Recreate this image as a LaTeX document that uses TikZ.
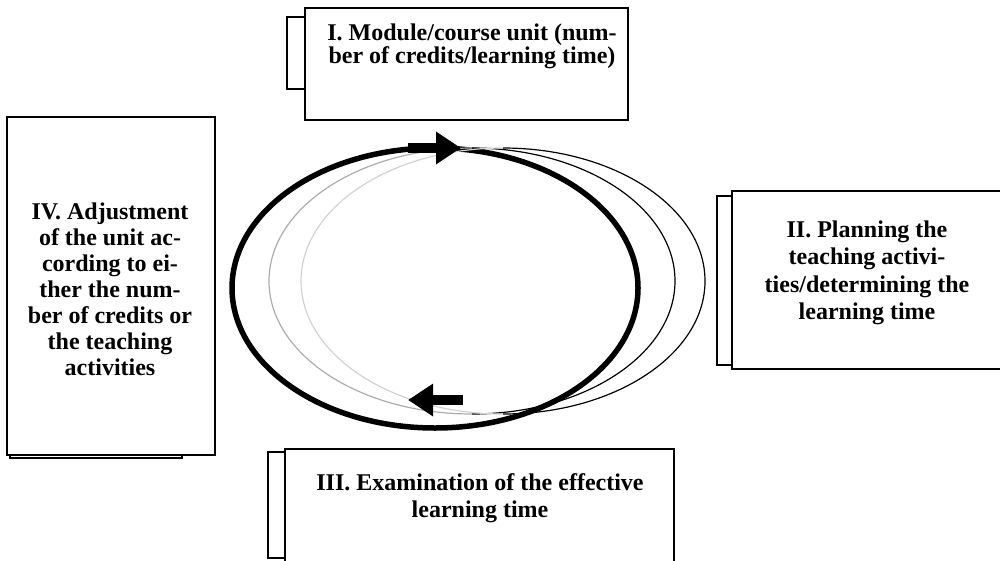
\documentclass[tikz,border=0pt]{standalone}
\usepackage{fontspec}
\setmainfont{Liberation Serif}
\usetikzlibrary{arrows.meta,positioning}
\tikzset{
  backbox/.style={draw, line width=1.2pt, fill=white, inner sep=0pt},
  frontbox/.style={draw, line width=1.5pt, fill=white, inner sep=0pt},
  steptext/.style={align=center, inner sep=0pt, font=\bfseries\fontsize{24}{27.5}\selectfont},
  cyclearrow/.style={line width=10pt, -{Triangle[length=25pt,width=31pt]}}
}

\begin{document}
\begin{tikzpicture}[x=1pt,y=-1pt]
    \clip (0,0) rectangle (1000,560);

    \draw[line width=5.5pt] (435,288) ellipse [x radius=203pt, y radius=140pt];
    \draw[gray!65, line width=1.2pt] (472,148) arc[start angle=90, end angle=270, x radius=203pt, y radius=133pt];
    \draw[black, line width=1.2pt] (472,414) arc[start angle=270, end angle=450, x radius=203pt, y radius=133pt];
    \draw[gray!35, line width=1.2pt] (503,148) arc[start angle=90, end angle=270, x radius=202pt, y radius=133pt];
    \draw[black, line width=1.2pt] (503,414) arc[start angle=270, end angle=450, x radius=202pt, y radius=133pt];

    \coordinate (topstart) at (408,148);
    \coordinate (topend) at (461,148);
    \coordinate (botstart) at (463,400);
    \coordinate (botend) at (408,400);
    \draw[cyclearrow] (topstart) -- (topend);
    \draw[cyclearrow] (botstart) -- (botend);

    \node[backbox, minimum width=273pt, minimum height=72pt] (back1) at (423.5,53) {};
    \node[frontbox, minimum width=323pt, minimum height=112pt] (box1) at (466.5,64) {};
    \node[steptext, font=\bfseries\fontsize{24}{22.7}\selectfont] (t1) at (472,46)
      {I. Module/course unit (num-\\ber of credits/learning time)};

    \node[backbox, minimum width=293pt, minimum height=169pt] (back2) at (863.5,280.5) {};
    \node[frontbox, minimum width=280pt, minimum height=178pt] (box2) at (872,280) {};
    \node[steptext] (t2) at (867,273)
      {II. Planning the\\teaching activi-\\ties/determining the\\learning time};

    \node[backbox, minimum width=332pt, minimum height=106pt] (back3) at (434,505) {};
    \node[frontbox, minimum width=389pt, minimum height=126pt] (box3) at (479.5,512) {};
    \node[steptext] (t3) at (480,498)
      {III. Examination of the effective\\learning time};

    \node[backbox, minimum width=172pt, minimum height=258pt] (back4) at (96,329) {};
    \node[frontbox, minimum width=208pt, minimum height=338pt] (box4) at (111,286) {};
    \node[steptext, font=\bfseries\fontsize{24}{26}\selectfont] (t4) at (110,289)
      {IV. Adjustment\\of the unit ac-\\cording to ei-\\ther the num-\\ber of credits or\\the teaching\\activities};
\end{tikzpicture}
\end{document}
